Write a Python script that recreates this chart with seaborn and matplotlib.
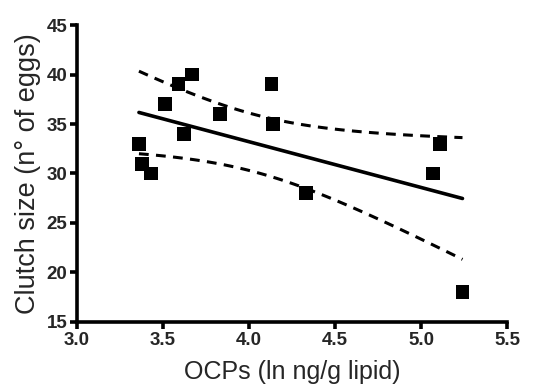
import numpy as np
import pandas as pd
import matplotlib
matplotlib.use("Agg")
import matplotlib.pyplot as plt
import seaborn as sns

ocps = [3.36, 3.38, 3.43, 3.51, 3.59, 3.67, 3.62, 3.83, 4.13, 4.14, 4.33, 5.07, 5.11, 5.24]
clutch = [33, 31, 30, 37, 39, 40, 34, 36, 39, 35, 28, 30, 33, 18]
xticks = [3.0, 3.5, 4.0, 4.5, 5.0, 5.5]
yticks = [15, 20, 25, 30, 35, 40, 45]

df = pd.DataFrame({"x": ocps, "y": clutch})

sns.set_style("ticks")
plt.rcParams["font.family"] = ["Liberation Sans", "DejaVu Sans"]

fig = plt.figure(figsize=(5.46, 3.92), dpi=100)
ax = fig.add_axes([0.141, 0.179, 0.788, 0.757])

sns.regplot(data=df, x="x", y="y", ax=ax, ci=None, marker="s",
            scatter_kws=dict(s=100, color="black", alpha=1, edgecolors="none", zorder=3),
            line_kws=dict(color="black", lw=2.6, zorder=2))

# 95% confidence bands of the regression line
x = np.asarray(ocps, float)
y = np.asarray(clutch, float)
n = len(x)
b, a = np.polyfit(x, y, 1)
resid = y - (a + b * x)
s = np.sqrt(np.sum(resid ** 2) / (n - 2))
t = 2.1788  # t(0.975, 12)
xs = np.linspace(x.min(), x.max(), 100)
se = s * np.sqrt(1 / n + (xs - x.mean()) ** 2 / np.sum((x - x.mean()) ** 2))
yhat = a + b * xs
band = pd.DataFrame({"x": np.r_[xs, xs], "y": np.r_[yhat + t * se, yhat - t * se],
                     "side": ["up"] * len(xs) + ["lo"] * len(xs)})
for side in ["up", "lo"]:
    sns.lineplot(data=band[band.side == side], x="x", y="y", ax=ax, color="black",
                 lw=2.2, linestyle=(0, (3.2, 2.4)), zorder=2)

ax.set_xlim(3.0, 5.5)
ax.set_ylim(15, 45)
ax.set_xticks(xticks)
ax.set_xticklabels([f"{v:.1f}" for v in xticks])
ax.set_yticks(yticks)
for side in ["top", "right"]:
    ax.spines[side].set_visible(False)
for side in ["left", "bottom"]:
    ax.spines[side].set_linewidth(2.6)
    ax.spines[side].set_color("black")
    ax.spines[side].set_capstyle("projecting")
ax.tick_params(axis="both", length=5, width=2.6, color="black", labelsize=13.5, pad=2)
for lab in ax.get_xticklabels() + ax.get_yticklabels():
    lab.set_fontweight("bold")
ax.set_xlabel("OCPs (ln ng/g lipid)", fontsize=18, labelpad=8)
ax.set_ylabel("Clutch size (n\u00b0 of eggs)", fontsize=19.5, labelpad=4)

fig.savefig("out.png", dpi=100)
